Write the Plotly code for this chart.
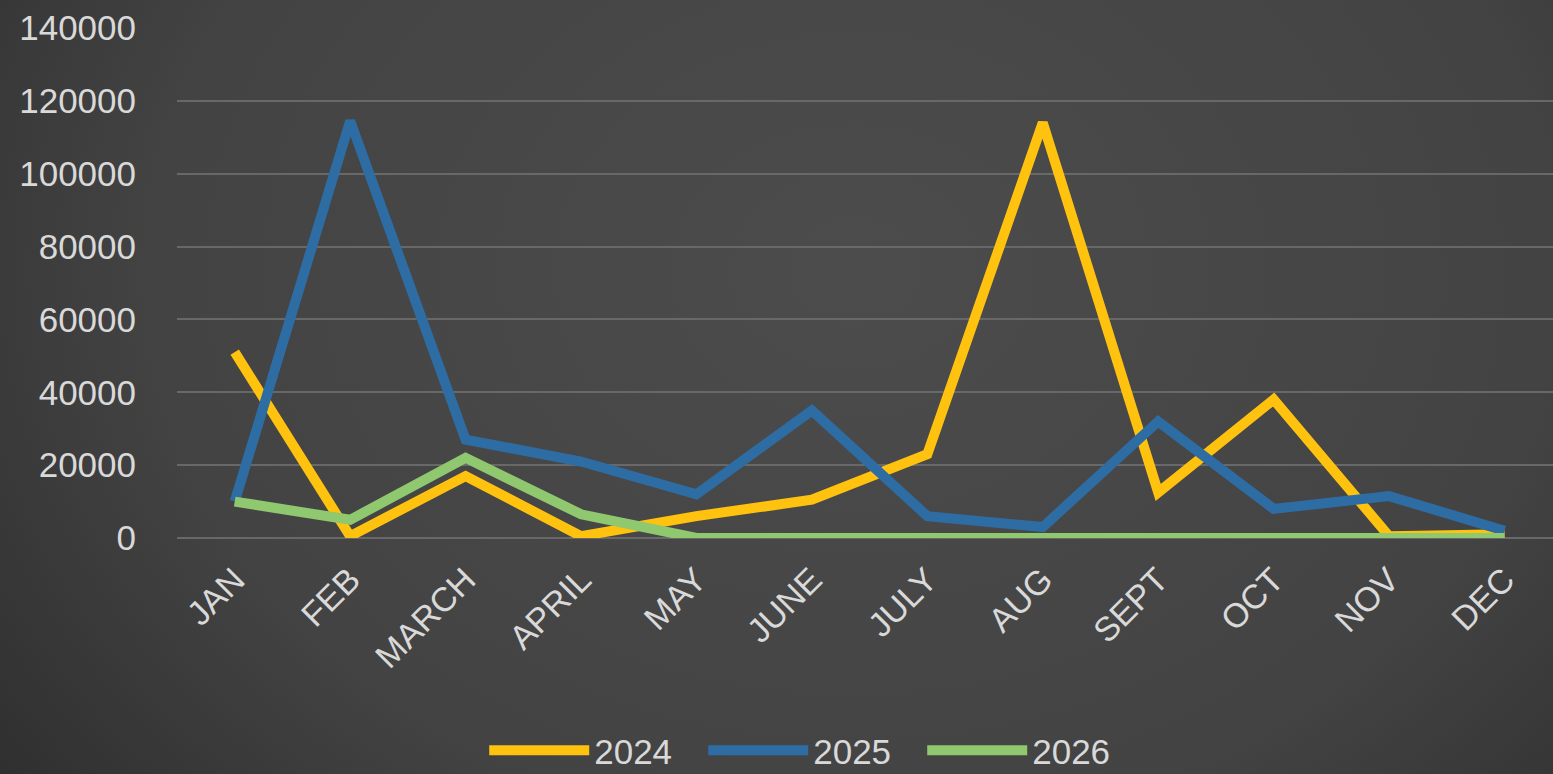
import base64
import plotly.graph_objects as go

months = ["JAN", "FEB", "MARCH", "APRIL", "MAY", "JUNE", "JULY", "AUG", "SEPT", "OCT", "NOV", "DEC"]
y2024 = [51000, 500, 17000, 500, 6000, 10500, 23000, 114000, 12500, 38000, 500, 1000]
y2025 = [10000, 114500, 27000, 21000, 12000, 35000, 6000, 3000, 32000, 8000, 11500, 2000]
y2026 = [10000, 5000, 22000, 6500, 0, 0, 0, 0, 0, 0, 0, 0]
series_names = ["2024", "2025", "2026"]
series_colors = ["#FFC20E", "#2E6DA4", "#8FC86E"]
y_ticks = [0, 20000, 40000, 60000, 80000, 100000, 120000, 140000]
y_tick_text = [str(v) for v in y_ticks]

W, H = 1553, 774
ML, MR, MT, MB = 177, 0, 28, 236
PW, PH = W - ML - MR, H - MT - MB

svg = f"""<svg xmlns='http://www.w3.org/2000/svg' width='{W}' height='{H}' viewBox='0 0 {W} {H}' preserveAspectRatio='none'>
<defs><radialGradient id='g' cx='0.55' cy='0.35' r='0.75' gradientTransform='translate(0.55 0.35) scale(1 1.6) translate(-0.55 -0.35)'>
<stop offset='0' stop-color='#4c4c4c'/><stop offset='0.6' stop-color='#434343'/><stop offset='1' stop-color='#2a2a2a'/></radialGradient></defs>
<rect width='{W}' height='{H}' fill='url(#g)'/></svg>"""
src = "data:image/svg+xml;base64," + base64.b64encode(svg.encode()).decode()

fig = go.Figure()
for name, vals, col in zip(series_names, [y2024, y2025, y2026], series_colors):
    fig.add_trace(go.Scatter(x=months, y=vals, name=name, mode="lines",
                             line=dict(color=col, width=10)))

fig.update_layout(
    width=W, height=H,
    margin=dict(l=ML, r=MR, t=MT, b=MB, autoexpand=False),
    paper_bgcolor="#383838",
    plot_bgcolor="rgba(0,0,0,0)",
    font=dict(family="Liberation Sans, Arial, sans-serif", color="#d9d9d9", size=34),
    showlegend=True,
    legend=dict(orientation="h", x=0.462, xanchor="center", y=-0.359, yanchor="top",
                font=dict(size=35, color="#d9d9d9"), itemwidth=100, tracegroupgap=0,
                entrywidth=104, entrywidthmode="pixels",
                bgcolor="rgba(0,0,0,0)"),
    images=[dict(source=src, xref="paper", yref="paper",
                 x=-ML / PW, y=1 + MT / PH, sizex=W / PW, sizey=H / PH,
                 xanchor="left", yanchor="top", sizing="stretch", layer="below")],
)
fig.update_xaxes(range=[-0.5, 11.42], tickangle=-45, showgrid=False, showline=False,
                 ticks="", tickfont=dict(size=34, color="#d9d9d9"), ticklabelstandoff=14,
                 automargin=False)
fig.update_yaxes(range=[0, 140000], tickvals=y_ticks, ticktext=y_tick_text,
                 showgrid=True, gridcolor="#686868",
                 gridwidth=2, zeroline=True, zerolinecolor="#686868", zerolinewidth=2,
                 tickfont=dict(size=35, color="#d9d9d9"), ticks="", ticklabelstandoff=40,
                 automargin=False)

fig.write_html("out.html", config={"displayModeBar": False},
               post_script="document.body.style.margin='0';document.body.style.background='#383838';")
